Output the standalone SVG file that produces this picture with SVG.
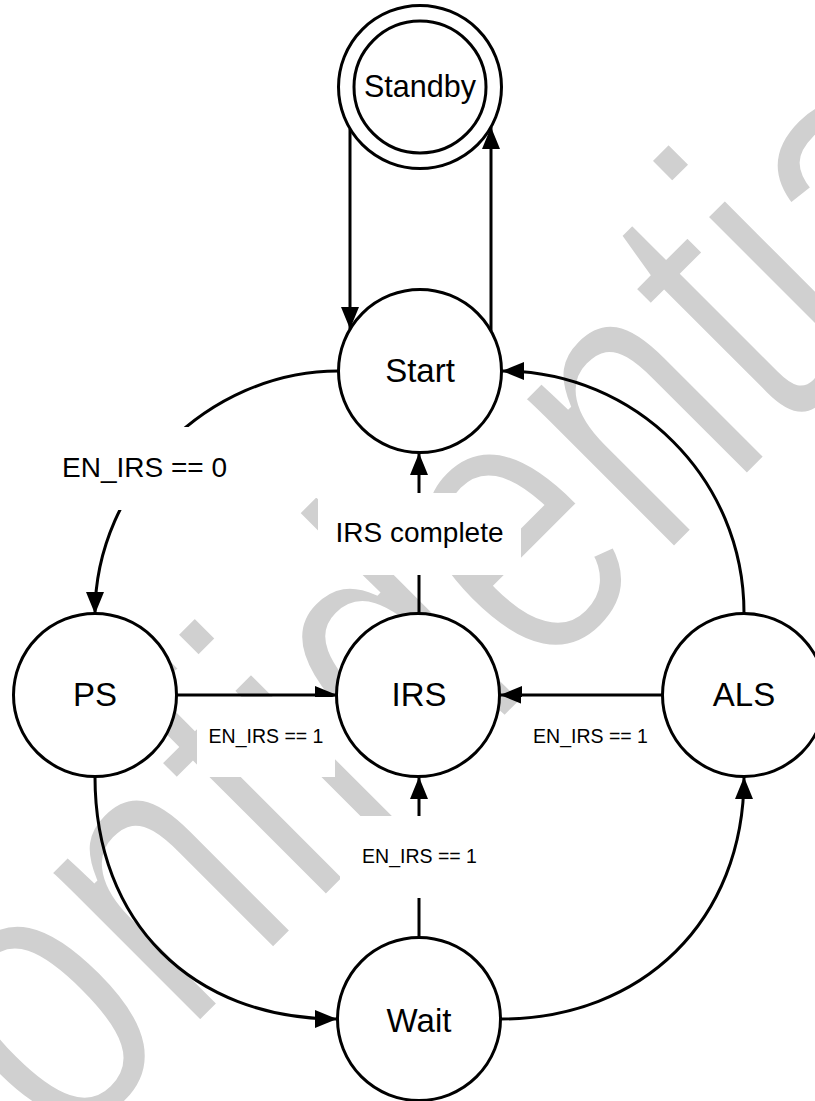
<svg xmlns="http://www.w3.org/2000/svg" width="815" height="1101" viewBox="0 0 815 1101">
<defs>
<style>
.node{fill:#fff;stroke:#000;stroke-width:3}
.edge{fill:none;stroke:#000;stroke-width:3}
.nt{font-family:"Liberation Sans",Arial,sans-serif;font-size:33px;fill:#000;text-anchor:middle}
.lb{font-family:"Liberation Sans",Arial,sans-serif;fill:#000;text-anchor:middle}
.lbg{fill:#fff;stroke:none}
.wm{font-family:"Liberation Sans",Arial,sans-serif;font-size:309px;fill:#d0d0d0;stroke:#fff;stroke-width:5}
</style>
<marker id="ah" viewBox="0 0 22 18" refX="22" refY="9" markerWidth="22" markerHeight="18" markerUnits="userSpaceOnUse" orient="auto"><path d="M0,0 L22,9 L0,18 z" fill="#000"/></marker>
</defs>
<rect width="815" height="1101" fill="#fff"/>
<g id="watermark" transform="translate(-93.7,1317.7) rotate(-45) scale(1,1.31)">
<text class="wm" x="0" y="0">Confidential</text>
</g>
<g id="connectors">
<path class="edge" d="M350,129 L350,329" marker-end="url(#ah)"/>
<path class="edge" d="M491,331 L491,127" marker-end="url(#ah)"/>
<path class="edge" d="M338,371 C208,371 95,484 95,614" marker-end="url(#ah)"/>
<path class="edge" d="M744,613 C744,479 636,371 502,371" marker-end="url(#ah)"/>
<path class="edge" d="M177,695 L337,695" marker-end="url(#ah)"/>
<path class="edge" d="M663,695 L500,695" marker-end="url(#ah)"/>
<path class="edge" d="M419,613 L419,453" marker-end="url(#ah)"/>
<path class="edge" d="M419,937 L419,777" marker-end="url(#ah)"/>
<path class="edge" d="M95,777 C95,922 192,1019 337,1019" marker-end="url(#ah)"/>
<path class="edge" d="M500,1019 C643,1019 744,920 744,777" marker-end="url(#ah)"/>
</g>
<g id="labels">
<rect class="lbg" x="41" y="427" width="207" height="83"/>
<text class="lb" x="144.5" y="477" font-size="28">EN_IRS == 0</text>
<rect class="lbg" x="318" y="493" width="203" height="82"/>
<text class="lb" x="419.5" y="542" font-size="28">IRS complete</text>
<rect class="lbg" x="197" y="697" width="138" height="80"/>
<text class="lb" x="266" y="743" font-size="19.5">EN_IRS == 1</text>
<rect class="lbg" x="521" y="697" width="139" height="80"/>
<text class="lb" x="590.5" y="743" font-size="19.5">EN_IRS == 1</text>
<rect class="lbg" x="340" y="816" width="159" height="82"/>
<text class="lb" x="419.5" y="863" font-size="19.5">EN_IRS == 1</text>
</g>
<g id="node-standby">
<circle class="node" cx="420" cy="87" r="81.5"/>
<circle class="node" cx="420" cy="87" r="66"/>
<text class="nt" x="420" y="97" font-size="30.5" style="font-size:30.5px">Standby</text>
</g>
<g id="node-start">
<circle class="node" cx="420" cy="371" r="81.5"/>
<text class="nt" x="420" y="382">Start</text>
</g>
<g id="node-ps">
<circle class="node" cx="95" cy="695" r="81.5"/>
<text class="nt" x="95" y="706">PS</text>
</g>
<g id="node-irs">
<circle class="node" cx="418" cy="695" r="81.5"/>
<text class="nt" x="419" y="706">IRS</text>
</g>
<g id="node-als">
<circle class="node" cx="744" cy="695" r="81.5"/>
<text class="nt" x="744" y="706">ALS</text>
</g>
<g id="node-wait">
<circle class="node" cx="419" cy="1019" r="81.5"/>
<text class="nt" x="419" y="1032">Wait</text>
</g>
</svg>
